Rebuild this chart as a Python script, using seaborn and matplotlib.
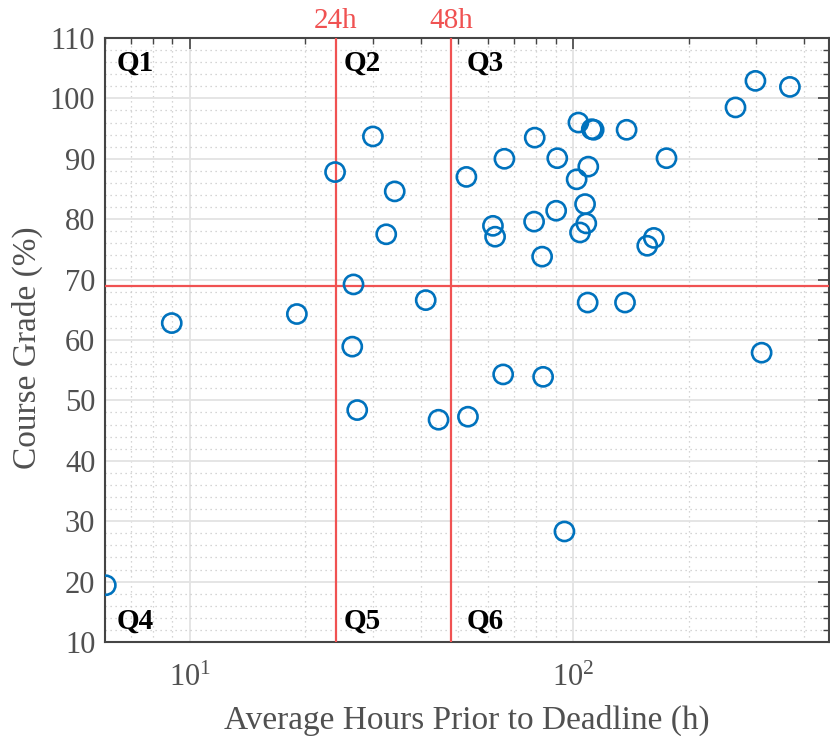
import numpy as np
import pandas as pd
import seaborn as sns
import matplotlib
matplotlib.use("Agg")
import matplotlib.pyplot as plt
from matplotlib.ticker import LogLocator, MultipleLocator, FixedLocator, NullFormatter

# ---- data ----
hours = [6.03, 8.96, 19.0, 23.9, 30.0, 34.2, 32.5, 26.7, 26.5, 27.3,
         41.2, 44.5, 53.1, 65.6, 83.4, 94.8, 52.6, 66.1, 79.3, 90.8,
         103.1, 111.7, 113.0, 137.7, 175.0, 109.4, 102.0, 107.3, 90.2, 79.0,
         108.1, 104.1, 61.7, 62.5, 82.9, 162.2, 155.9, 109.0, 136.4, 264.9,
         298.6, 367.3, 309.9]
grades = [19.4, 62.8, 64.3, 87.8, 93.7, 84.6, 77.5, 69.2, 58.9, 48.4,
          66.6, 46.8, 47.3, 54.3, 53.9, 28.3, 87.0, 90.0, 93.5, 90.1,
          96.0, 94.9, 94.8, 94.8, 90.1, 88.7, 86.6, 82.5, 81.4, 79.6,
          79.3, 77.8, 78.9, 77.1, 73.8, 76.9, 75.6, 66.2, 66.2, 98.5,
          102.9, 101.9, 57.9]
vlines = [24, 48]
vline_labels = ["24h", "48h"]
hline = 69
quad_labels = ["Q1", "Q2", "Q3", "Q4", "Q5", "Q6"]
quad_x = [6.45, 25.2, 52.8, 6.45, 25.2, 52.8]
quad_y = [105.9, 105.9, 105.9, 13.4, 13.4, 13.4]
yticks = list(range(10, 111, 10))

df = pd.DataFrame({"hours": hours, "grade": grades})

# ---- style ----
sns.set_style("white")
plt.rcParams["font.family"] = ["Liberation Serif", "DejaVu Serif"]
plt.rcParams["mathtext.fontset"] = "stix"

BLUE = "#0072BD"
RED = "#F05252"
TXT = "#505050"
SPINE = "#454545"

fig = plt.figure(figsize=(8.30, 7.36), dpi=100)
ax = fig.add_axes([0.1265, 0.1277, 0.8725, 0.8207])

sns.scatterplot(data=df, x="hours", y="grade", ax=ax, marker="o", s=190,
                facecolor="none", edgecolor=BLUE, linewidth=1.9, zorder=5)
coll = ax.collections[0]
coll.set_facecolor("none")
coll.set_edgecolor(BLUE)
coll.set_linewidth(1.9)

ax.set_xscale("log")
ax.set_xlim(6.0, 465)
ax.set_ylim(10, 110)

ax.yaxis.set_major_locator(FixedLocator(yticks))
ax.yaxis.set_minor_locator(MultipleLocator(2))
ax.xaxis.set_major_locator(LogLocator(base=10))
ax.xaxis.set_minor_locator(LogLocator(base=10, subs=np.arange(2, 10)))
ax.xaxis.set_minor_formatter(NullFormatter())

ax.grid(True, which="major", color="#e3e3e3", linewidth=1.3, linestyle="-")
ax.grid(True, which="minor", color="#c8c8c8", linewidth=0.9, linestyle=(0, (1, 3)))
ax.set_axisbelow(True)

for sp in ax.spines.values():
    sp.set_visible(True)
    sp.set_color(SPINE)
    sp.set_linewidth(1.5)

ax.tick_params(which="both", direction="in", top=True, right=True, colors=SPINE,
               labelcolor=TXT, labelsize=22)
ax.tick_params(which="major", length=8, width=1.2)
ax.tick_params(which="minor", length=4, width=1.0)
ax.tick_params(axis="x", which="major", pad=16)
ax.tick_params(axis="y", which="major", pad=7)

for v, lab in zip(vlines, vline_labels):
    ax.axvline(v, color=RED, linewidth=1.6, zorder=3)
    ax.text(v, 1.006, lab, color=RED, fontsize=21, ha="center", va="bottom",
            transform=ax.get_xaxis_transform())
ax.axhline(hline, color=RED, linewidth=1.6, zorder=3)

for lab, qx, qy in zip(quad_labels, quad_x, quad_y):
    ax.text(qx, qy, lab, fontsize=21, fontweight="bold", color="black",
            ha="left", va="center", zorder=6)

ax.set_xlabel("Average Hours Prior to Deadline (h)", fontsize=24, color=TXT, labelpad=8)
ax.set_ylabel("Course Grade (%)", fontsize=24, color=TXT)
ax.yaxis.set_label_coords(-0.085, 0.488)

fig.savefig("out.png", dpi=100)
